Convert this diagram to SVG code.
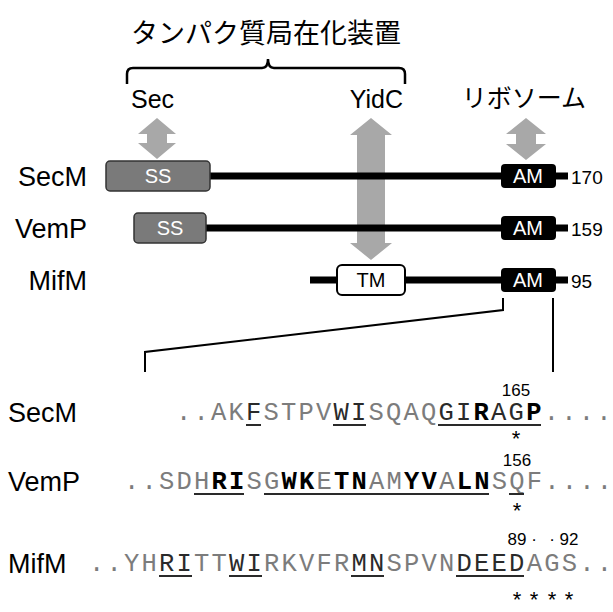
<svg xmlns="http://www.w3.org/2000/svg" width="613" height="612" viewBox="0 0 613 612">
<style>
.lbl{font-family:"Liberation Sans",Arial,sans-serif;fill:#000}
.jp{font-family:"Noto Sans CJK JP","Noto Sans CJK SC",sans-serif;fill:#000}
.box{font-family:"Liberation Sans",Arial,sans-serif;font-size:20px;fill:#fff;text-anchor:middle}
.seq{font-family:"Liberation Mono","Courier New",monospace;font-size:25.5px;letter-spacing:2.2px}
.g{fill:#7c7c7c}
.d{fill:#2a2a2a}
.b{fill:#000;font-weight:bold}
.e{letter-spacing:0}
.num{font-family:"Liberation Sans",Arial,sans-serif;font-size:17px;fill:#000;text-anchor:middle}
.ast{font-family:"Liberation Sans",Arial,sans-serif;font-size:22px;fill:#000;text-anchor:middle}
.ul{stroke:#2a2a2a;stroke-width:2}
.arr{fill:#a8a8a8}
.chain{stroke:#000;stroke-width:7}
</style>

<g id="title">
<text class="jp" x="266" y="43" font-size="27" text-anchor="middle">タンパク質局在化装置</text>
<path d="M127,84 V74 Q127,68 133,68 H262 Q268,68 268,59 Q268,68 274,68 H399 Q405,68 405,74 V84" fill="none" stroke="#000" stroke-width="2.5"/>
</g>

<g id="sec"><text class="lbl" x="131" y="108" font-size="25">Sec</text></g>
<g id="yidc"><text class="lbl" x="403" y="108" font-size="25" text-anchor="end">YidC</text></g>
<g id="ribosome"><text class="jp" x="524" y="107" font-size="25" text-anchor="middle">リボソーム</text></g>

<g id="arrows">
<path class="arr" d="M157,118 L176,134 L167,134 L167,143 L176,143 L157,159 L138,143 L147,143 L147,134 L138,134 Z"/>
<path class="arr" d="M371,118 L392,135 L385,135 L385,243 L392,243 L371,260 L350,243 L357,243 L357,135 L350,135 Z"/>
<path class="arr" d="M526,118 L546,134 L536,134 L536,144 L546,144 L526,160 L506,144 L516,144 L516,134 L506,134 Z"/>
</g>

<g id="secm">
<text class="lbl" x="87" y="186" font-size="27" text-anchor="end">SecM</text>
<line class="chain" x1="208" y1="176" x2="568" y2="176"/>
<rect x="106" y="161" width="104" height="30" rx="4" fill="#7a7a7a" stroke="#333" stroke-width="1.5"/>
<text class="box" x="158" y="183">SS</text>
<rect x="501" y="164" width="55" height="24" rx="4" fill="#000"/>
<text class="box" x="528" y="183">AM</text>
<text class="lbl" x="571" y="184" font-size="19">170</text>
</g>

<g id="vemp">
<text class="lbl" x="87" y="238" font-size="27" text-anchor="end">VemP</text>
<line class="chain" x1="204" y1="228" x2="568" y2="228"/>
<rect x="134" y="213" width="72" height="30" rx="4" fill="#7a7a7a" stroke="#333" stroke-width="1.5"/>
<text class="box" x="170" y="235">SS</text>
<rect x="501" y="216" width="55" height="24" rx="4" fill="#000"/>
<text class="box" x="528" y="235">AM</text>
<text class="lbl" x="571" y="236" font-size="19">159</text>
</g>

<g id="mifm">
<text class="lbl" x="87" y="290" font-size="27" text-anchor="end">MifM</text>
<line class="chain" x1="310" y1="280" x2="568" y2="280"/>
<rect x="337" y="265" width="68" height="30" rx="5" fill="#fff" stroke="#000" stroke-width="2"/>
<text class="box" x="371" y="287" style="fill:#000">TM</text>
<rect x="501" y="268" width="55" height="24" rx="4" fill="#000"/>
<text class="box" x="528" y="287">AM</text>
<text class="lbl" x="571" y="288" font-size="19">95</text>
</g>

<g id="connectors" fill="none" stroke="#000" stroke-width="2">
<path d="M503,298 V310 L145,352 V372"/>
<path d="M553,298 V372"/>
</g>

<g id="seq-secm">
<text class="lbl" x="8" y="422" font-size="27">SecM</text>
<text class="seq" x="176" y="420"><tspan class="g">..AK</tspan><tspan class="d">F</tspan><tspan class="g">STPV</tspan><tspan class="d">WI</tspan><tspan class="g">SQAQ</tspan><tspan class="d">GI</tspan><tspan class="b">R</tspan><tspan class="d">AG</tspan><tspan class="b">P</tspan><tspan class="g">...</tspan><tspan class="g e">.</tspan></text>
<line class="ul" x1="246" y1="425" x2="261" y2="425"/>
<line class="ul" x1="333" y1="425" x2="366" y2="425"/>
<line class="ul" x1="438" y1="425" x2="541" y2="425"/>
<text class="num" x="516" y="396">165</text>
<text class="ast" x="516" y="446">*</text>
</g>

<g id="seq-vemp">
<text class="lbl" x="8" y="491" font-size="27">VemP</text>
<text class="seq" x="124" y="489"><tspan class="g">..SDH</tspan><tspan class="b">RI</tspan><tspan class="g">SG</tspan><tspan class="b">WK</tspan><tspan class="g">E</tspan><tspan class="b">TN</tspan><tspan class="g">AM</tspan><tspan class="b">YV</tspan><tspan class="g">A</tspan><tspan class="b">LN</tspan><tspan class="g">SQF...</tspan><tspan class="g e">.</tspan></text>
<line class="ul" x1="194" y1="494" x2="244" y2="494"/>
<line class="ul" x1="264" y1="494" x2="489" y2="494"/>
<line class="ul" x1="509" y1="494" x2="524" y2="494"/>
<text class="num" x="517" y="466">156</text>
<text class="ast" x="517" y="518">*</text>
</g>

<g id="seq-mifm">
<text class="lbl" x="8" y="573" font-size="27">MifM</text>
<text class="seq" x="89" y="571"><tspan class="g">..YH</tspan><tspan class="d">RI</tspan><tspan class="g">TT</tspan><tspan class="d">WI</tspan><tspan class="g">RKVFR</tspan><tspan class="d">MN</tspan><tspan class="g">SPVN</tspan><tspan class="d">DEED</tspan><tspan class="g">AGS.</tspan><tspan class="g e">.</tspan></text>
<line class="ul" x1="159" y1="576" x2="192" y2="576"/>
<line class="ul" x1="229" y1="576" x2="262" y2="576"/>
<line class="ul" x1="351" y1="576" x2="384" y2="576"/>
<line class="ul" x1="456" y1="576" x2="524" y2="576"/>
<text class="num" x="517" y="545">89</text>
<text class="num" x="534" y="545">·</text>
<text class="num" x="552" y="545">·</text>
<text class="num" x="569" y="545">92</text>
<text class="ast" x="517" y="607">*</text>
<text class="ast" x="534" y="607">*</text>
<text class="ast" x="552" y="607">*</text>
<text class="ast" x="569" y="607">*</text>
</g>
</svg>
